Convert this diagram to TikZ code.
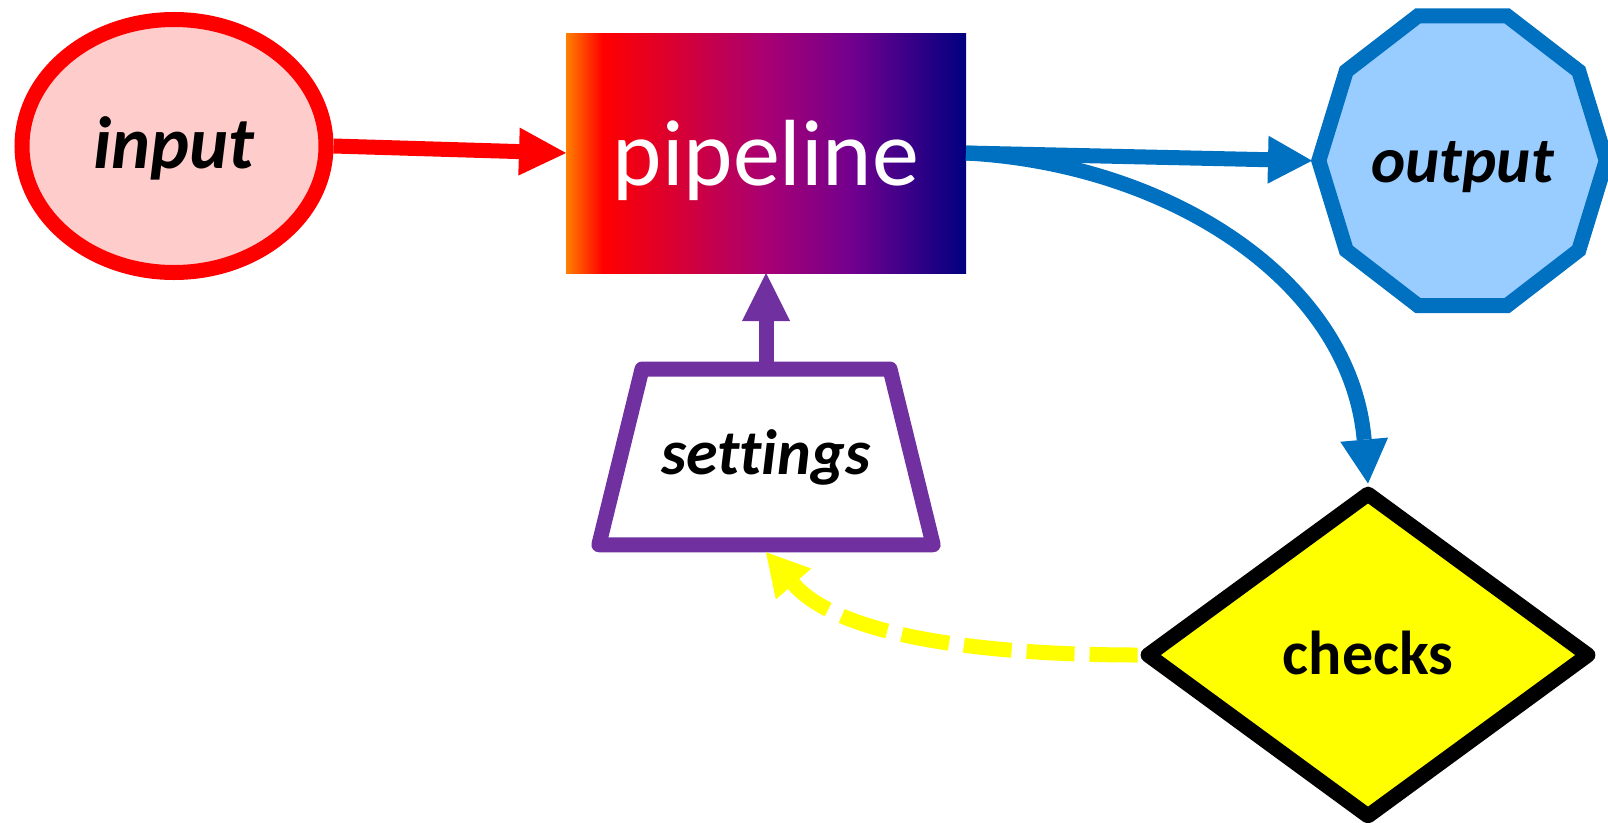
\documentclass[tikz,border=0pt]{standalone}
\usepackage{fontspec}
\setmainfont{Carlito}[Ligatures=NoCommon]
\usetikzlibrary{arrows.meta,shapes.geometric,backgrounds,calc}

\definecolor{inred}{HTML}{FF0000}
\definecolor{inpink}{HTML}{FFCCCC}
\definecolor{outblue}{HTML}{0070C0}
\definecolor{outfill}{HTML}{99CCFF}
\definecolor{setpurple}{HTML}{7030A0}
\definecolor{chkyellow}{HTML}{FFFF00}

% orange -> red -> purple -> navy, mapped onto the middle 50bp of the shading
\pgfdeclarehorizontalshading{pipeshade}{100bp}{%
  rgb(0bp)=(1,0.5,0); rgb(25bp)=(1,0.5,0); rgb(29.6bp)=(1,0,0);
  rgb(50bp)=(0.66,0,0.45); rgb(61bp)=(0.44,0,0.56);
  rgb(75bp)=(0,0,0.5); rgb(100bp)=(0,0,0.5)}

\begin{document}
\begin{tikzpicture}[x=1pt, y=-1pt, line width=15pt,
  inbox/.style={ellipse, draw=inred, fill=inpink, minimum width=304pt,
    minimum height=253pt, inner sep=0pt,
    font=\fontsize{74}{80}\selectfont\bfseries\itshape,
    text height=45pt, text depth=0pt},
  pipebox/.style={rectangle, shade, shading=pipeshade, minimum width=400pt,
    minimum height=240pt, outer sep=0pt, inner sep=0pt, text=white,
    font=\fontsize{94}{100}\selectfont, text height=64pt, text depth=0pt},
  outbox/.style={circle, minimum size=301pt, outer sep=0pt, inner sep=0pt,
    font=\fontsize{65}{70}\selectfont\bfseries\itshape,
    text height=44pt, text depth=0pt},
  outline/.style={draw=outblue, fill=outfill, line width=15pt},
  setbox/.style={trapezium, trapezium left angle=76.2,
    trapezium right angle=76.2, text width=220pt, align=center,
    inner xsep=14pt, inner ysep=69.85pt, draw=setpurple,
    fill=white, line join=round,
    font=\fontsize{64}{70}\selectfont\bfseries\itshape,
    text height=36pt, text depth=0pt},
  chkbox/.style={diamond, draw=black, fill=chkyellow, minimum width=446pt,
    minimum height=328pt, line join=round, inner sep=0pt,
    font=\fontsize{62}{68}\selectfont\bfseries,
    text height=38pt, text depth=0pt},
  redarrow/.style={draw=inred,
    -{Triangle[length=47pt, width=48pt, line width=0pt]}},
  purparrow/.style={draw=setpurple,
    -{Triangle[length=48pt, width=48pt, line width=0pt]}},
  bluearrow/.style={draw=outblue,
    -{Triangle[length=44pt, width=48pt, line width=0pt]}},
  yelarrow/.style={draw=chkyellow, dash pattern=on 48pt off 15pt,
    -{Triangle[length=42pt, width=47pt, line width=0pt]}},
]
\useasboundingbox (0,0) rectangle (1608,822);

\node[inbox] (input) at (174,146) {input};
\node[pipebox] (pipeline) at (766,153) {pipeline};
\node[outbox] (output) at (1462.5,160.7) {output};
\node[setbox] (settings) at (766,456.9) {settings};
\node[chkbox] (checks) at (1368,655) {checks};

% ten-sided outline behind the output label
\begin{scope}[on background layer]
  \draw[outline] ($(output.center)+(0:143.7pt and 152.4pt)$)
    \foreach \a in {36,72,...,324}{ -- ($(output.center)+(\a:143.7pt and 152.4pt)$) }
    -- cycle;
\end{scope}

\draw[redarrow] (input.east) -- (pipeline.west);
\draw[purparrow] (settings.north) -- (pipeline.south);
\draw[bluearrow] (pipeline.east) -- (output.west);
\draw[bluearrow] (pipeline.east) to[out=-3, in=95, looseness=1] (checks.north);
\draw[yelarrow] (checks.west) to[out=180, in=-49, looseness=0.8] (settings.south);
\end{tikzpicture}
\end{document}
